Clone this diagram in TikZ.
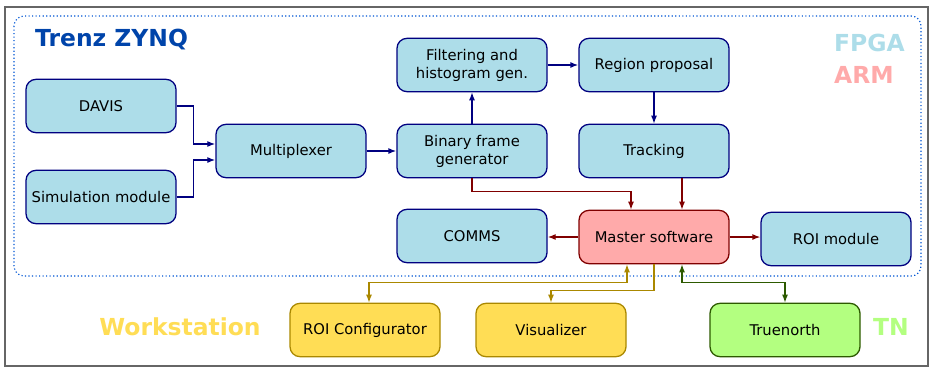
\documentclass[tikz,border=0pt]{standalone}
\usepackage{fontspec}
\setmainfont{DejaVu Sans}
\usetikzlibrary{arrows.meta}
\definecolor{fpgafill}{HTML}{ADDDE9}
\definecolor{fpgaline}{HTML}{000080}
\definecolor{armfill}{HTML}{FFAAAA}
\definecolor{armline}{HTML}{800000}
\definecolor{wsfill}{HTML}{FFDD55}
\definecolor{wsline}{HTML}{AA8800}
\definecolor{tnfill}{HTML}{B3FF80}
\definecolor{tnline}{HTML}{2D5A00}
\definecolor{zynqblue}{HTML}{0044AA}
\definecolor{dotblue}{HTML}{0055D4}
\definecolor{framegray}{HTML}{666666}

\tikzset{
  block/.style={rounded corners=0.3cm, line width=1.1pt, minimum width=4.5cm, minimum height=1.6cm,
    align=center, inner sep=1pt, font=\fontsize{12.6}{15.3}\selectfont},
  fpga/.style={block, draw=fpgaline, fill=fpgafill},
  arm/.style={block, draw=armline, fill=armfill},
  ws/.style={block, draw=wsline, fill=wsfill},
  tn/.style={block, draw=tnline, fill=tnfill},
  biglabel/.style={font=\fontsize{20}{24}\selectfont\bfseries},
  link/.style={line width=1.1pt, >={Latex[length=2.4mm,width=1.8mm]}},
}

\begin{document}
\begin{tikzpicture}[x=0.03cm, y=-0.03cm]
    \useasboundingbox (0,0) rectangle (931,367);
    % border
    \draw[framegray, line width=1.2pt] (5,7) rectangle (928,366);
    \draw[dotblue, dotted, line width=1pt, rounded corners=0.3cm] (14,16) rectangle (921,276);
    % labels
    \node[biglabel, zynqblue, anchor=west] (zynq) at (31,40) {Trenz ZYNQ};
    \node[biglabel, fpgafill, anchor=west] (fpgalbl) at (830,43) {FPGA};
    \node[biglabel, armfill, anchor=west] (armlbl) at (830,75) {ARM};
    \node[biglabel, wsfill] (wslbl) at (180,327) {Workstation};
    \node[biglabel, tnfill] (tnlbl) at (891,327) {TN};
    % zynq blocks
    \node[fpga] (davis) at (101,106) {DAVIS};
    \node[fpga] (sim) at (101,197) {Simulation module};
    \node[fpga] (mux) at (291,151) {Multiplexer};
    \node[fpga] (bfg) at (472,151) {Binary frame\\generator};
    \node[fpga] (filt) at (472,65) {Filtering and\\histogram gen.};
    \node[fpga] (region) at (654,65) {Region proposal};
    \node[fpga] (track) at (654,151) {Tracking};
    \node[arm] (master) at (654,237) {Master software};
    \node[fpga] (comms) at (472,236) {COMMS};
    \node[fpga] (roimod) at (836,239) {ROI module};
    % outside
    \node[ws] (roicfg) at (365,330) {ROI Configurator};
    \node[ws] (vis) at (551,330) {Visualizer};
    \node[tn] (truenorth) at (785,330) {Truenorth};
    % fpga links
    \draw[link, fpgaline, ->] (davis.east) -- ++(17,0) |- ([yshift=0.21cm]mux.west);
    \draw[link, fpgaline, ->] (sim.east) -- ++(17,0) |- ([yshift=-0.27cm]mux.west);
    \draw[link, fpgaline, ->] (mux) -- (bfg);
    \draw[link, fpgaline, ->] (bfg) -- (filt);
    \draw[link, fpgaline, ->] (filt) -- (region);
    \draw[link, fpgaline, ->] (region) -- (track);
    % arm links
    \draw[link, armline, ->] (bfg.south) -- ++(0,13) -| ([xshift=-0.69cm]master.north);
    \draw[link, armline, ->] ([xshift=0.84cm]track.south) -- ([xshift=0.84cm]master.north);
    \draw[link, armline, ->] (master.west) -- (master.west -| comms.east);
    \draw[link, armline, ->] (master.east) -- (master.east -| roimod.west);
    % external links
    \draw[link, wsline, <->] ([xshift=-0.81cm]master.south) -- ++(0,18) -| ([xshift=0.12cm]roicfg.north);
    \draw[link, wsline, ->] (master.south) -- ++(0,26) -| (vis.north);
    \draw[link, tnline, <->] ([xshift=0.84cm]master.south) -- ++(0,18) -| (truenorth.north);
\end{tikzpicture}
\end{document}
